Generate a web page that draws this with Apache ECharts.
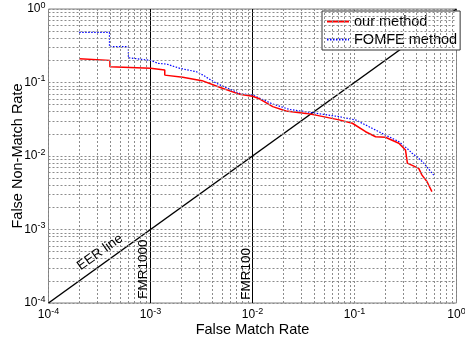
<!DOCTYPE html>
<html>
<head>
<meta charset="utf-8">
<script src="https://cdn.jsdelivr.net/npm/echarts@6/dist/echarts.min.js"></script>
<style>html,body{margin:0;padding:0;background:#fff}#c{width:465px;height:343px}</style>
</head>
<body>
<div id="c"></div>
<script>
// ---- data ----
const ourFMR  = [2e-4, 2e-4, 4e-4, 4e-4, 1e-3, 1.38e-3, 1.38e-3, 2.07e-3, 3.2e-3, 4.76e-3, 7.5e-3, 1e-2, 1.17e-2, 1.58e-2, 2.13e-2, 3.34e-2, 4.18e-2, 7.06e-2, 9.53e-2, 0.1285, 0.161, 0.201, 0.272, 0.316, 0.33, 0.426, 0.459, 0.513, 0.574];
const ourFNMR = [0.21, 0.2, 0.2, 0.164, 0.156, 0.148, 0.126, 0.118, 0.106, 0.086, 0.069, 0.065, 0.060, 0.047, 0.041, 0.038, 0.036, 0.031, 0.0279, 0.0214, 0.0183, 0.018, 0.0149, 0.0121, 0.008, 0.0068, 0.0055, 0.0045, 0.00327];
const fomfeFMR  = [2e-4, 3.96e-4, 3.96e-4, 6.07e-4, 6.07e-4, 1e-3, 1.19e-3, 1.44e-3, 1.94e-3, 2.82e-3, 3.27e-3, 4.42e-3, 7.46e-3, 1e-2, 1.58e-2, 2.3e-2, 3.87e-2, 7.06e-2, 0.103, 0.149, 0.201, 0.272, 0.34, 0.367, 0.426, 0.477, 0.513, 0.597];
const fomfeFNMR = [0.48, 0.48, 0.307, 0.307, 0.217, 0.2, 0.182, 0.178, 0.156, 0.14, 0.126, 0.0975, 0.071, 0.0675, 0.051, 0.043, 0.0388, 0.0343, 0.0309, 0.0238, 0.0193, 0.0157, 0.0121, 0.0109, 0.0093, 0.008, 0.0071, 0.0055];
const eerLine = [1e-4, 1];
const fmrLines = [1e-3, 1e-2];
const fmrLabels = ['FMR1000', 'FMR100'];
const seriesNames = ['our method', 'FOMFE method'];
const decades = [-4, -3, -2, -1];
const minorMult = [2, 3, 4, 5, 6, 7, 8, 9];

const minorVals = [];
decades.forEach(d => minorMult.forEach(m => minorVals.push(m * Math.pow(10, d))));

const zip = (a, b) => a.map((v, i) => [v, b[i]]);
const FONT = 'Liberation Sans, Arial, sans-serif';
const gridStyle = { color: '#8c8c8c', width: 1, type: [2, 2] };

const tickFmt = v => '{b|10}{s|' + Math.round(Math.log10(v)) + '}';
const rich = {
  b: { fontSize: 12, fontFamily: FONT, color: '#000' },
  s: { fontSize: 9, fontFamily: FONT, color: '#000', padding: [0, 0, 7, 0] }
};

const chart = echarts.init(document.getElementById('c'), null, { renderer: 'canvas' });
const minorLines = [];
minorVals.forEach(v => {
  minorLines.push([{ coord: [v, 1e-4] }, { coord: [v, 1] }]);
  minorLines.push([{ coord: [1e-4, v] }, { coord: [1, v] }]);
});

chart.setOption({
  animation: false,
  backgroundColor: '#fff',
  grid: { left: 48.5, right: 8.5, top: 9, bottom: 40, outerBoundsMode: 'none', containLabel: false, show: true, borderColor: '#808080', borderWidth: 1, backgroundColor: 'transparent' },
  xAxis: {
    type: 'log', logBase: 10, min: 1e-4, max: 1, splitNumber: 4,
    name: 'False Match Rate', nameLocation: 'middle', nameGap: 19, nameMoveOverlap: false,
    nameTextStyle: { fontSize: 14.5, fontFamily: FONT, color: '#000' },
    axisLine: { show: false }, axisTick: { show: false },
    axisLabel: { formatter: tickFmt, rich: rich, margin: 4 },
    splitLine: { show: true, lineStyle: gridStyle }
  },
  yAxis: {
    type: 'log', logBase: 10, min: 1e-4, max: 1, splitNumber: 4,
    name: 'False Non-Match Rate', nameLocation: 'middle', nameGap: 23, nameMoveOverlap: false,
    nameTextStyle: { fontSize: 14.5, fontFamily: FONT, color: '#000' },
    axisLine: { show: false }, axisTick: { show: false },
    axisLabel: { formatter: tickFmt, rich: rich, margin: 3 },
    splitLine: { show: true, lineStyle: gridStyle }
  },
  legend: {
    data: seriesNames,
    orient: 'vertical', left: 322, top: 11,
    backgroundColor: '#fff', borderColor: '#333', borderWidth: 1,
    padding: [3, 3, 3, 4], itemGap: 3, itemWidth: 22, itemHeight: 14,
    itemStyle: { opacity: 0 },
    textStyle: { fontSize: 14.5, fontFamily: FONT, color: '#000', padding: [0, 0, 0, 0] }
  },
  series: [
    {
      name: 'grid', type: 'line', data: [], silent: true,
      markLine: { silent: true, symbol: ['none', 'none'], label: { show: false }, lineStyle: gridStyle, data: minorLines, animation: false }
    },
    {
      name: 'EER', type: 'line', data: zip(eerLine, eerLine), symbol: 'none', silent: true,
      lineStyle: { color: '#000', width: 1.5 },
      markPoint: {
        symbol: 'circle', symbolSize: 0, silent: true,
        data: [{ coord: [3.2e-4, 4.9e-4], value: 'EER line' }],
        label: { show: true, position: 'inside', formatter: 'EER line', rotate: 35.6, fontSize: 13.5, fontFamily: FONT, color: '#000' }
      }
    },
    {
      name: 'FMR', type: 'line', symbol: 'none', silent: true,
      data: [[fmrLines[0], 1e-4], [fmrLines[0], 1], null, [fmrLines[1], 1e-4], [fmrLines[1], 1]],
      connectNulls: false,
      lineStyle: { color: '#000', width: 1 },
      markPoint: {
        symbol: 'circle', symbolSize: 0, silent: true,
        data: [
          { coord: [8.5e-4, 2.9e-4], value: fmrLabels[0] },
          { coord: [8.6e-3, 2.5e-4], value: fmrLabels[1] }
        ],
        label: { show: true, position: 'inside', formatter: p => p.value, rotate: 90, fontSize: 13.5, fontFamily: FONT, color: '#000' }
      }
    },
    {
      name: seriesNames[1], type: 'line', data: zip(fomfeFMR, fomfeFNMR), symbol: 'none',
      lineStyle: { color: '#0000ff', width: 1.2, type: [1.5, 1.5] }, itemStyle: { color: '#0000ff' }
    },
    {
      name: seriesNames[0], type: 'line', data: zip(ourFMR, ourFNMR), symbol: 'none',
      lineStyle: { color: '#ff0000', width: 1.5 }, itemStyle: { color: '#ff0000' }
    }
  ]
});
</script>
</body>
</html>
